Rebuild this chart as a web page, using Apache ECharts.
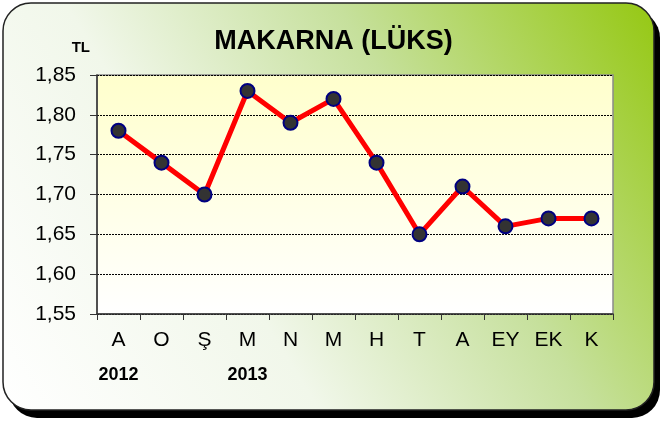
<!DOCTYPE html>
<html>
<head>
<meta charset="utf-8">
<script src="https://cdn.jsdelivr.net/npm/echarts@6/dist/echarts.min.js"></script>
<style>
    html, body { margin: 0; padding: 0; background: #fff; }
    #chart { width: 667px; height: 423px; }
</style>
</head>
<body>
<div id="chart"></div>
<script>
// aylar (kategori) ve yıl etiketleri
var months = ["A", "O", "Ş", "M", "N", "M", "H", "T", "A", "EY", "EK", "K"];
var years = ["2012", "", "", "2013", "", "", "", "", "", "", "", ""];
// fiyatlar TL
var prices = [1.78, 1.74, 1.70, 1.83, 1.79, 1.82, 1.74, 1.65, 1.71, 1.66, 1.67, 1.67];
var yMin = 1.55, yMax = 1.85, yStep = 0.05;

var chartDom = document.getElementById('chart');
var myChart = echarts.init(chartDom);

var option = {
    animation: false,
    graphic: [
        {
            type: 'rect',
            z: -10,
            shape: {x: 9, y: 10, width: 651, height: 408, r: 28},
            style: {fill: '#000'}
        },
        {
            type: 'rect',
            z: -9,
            shape: {x: 3, y: 3, width: 651, height: 407, r: 28},
            style: {
                stroke: '#222',
                lineWidth: 1.5,
                fill: new echarts.graphic.LinearGradient(0, 1, 1, 0, [
                    {offset: 0, color: '#ffffff'},
                    {offset: 0.35, color: '#f1f7ea'},
                    {offset: 0.65, color: '#c6e09c'},
                    {offset: 1, color: '#95c812'}
                ])
            }
        }
    ],
    title: {
        text: 'MAKARNA (LÜKS)',
        left: 'center',
        top: 23,
        textStyle: {
            fontFamily: 'Liberation Sans',
            fontWeight: 'bold',
            fontSize: 27,
            color: '#000'
        }
    },
    grid: {
        left: 97,
        right: 54,
        top: 75,
        bottom: 109,
        show: true,
        borderColor: '#8a8a8a',
        borderWidth: 1.5,
        backgroundColor: new echarts.graphic.LinearGradient(0, 0, 0, 1, [
            {offset: 0, color: '#ffffcc'},
            {offset: 1, color: '#ffffff'}
        ])
    },
    xAxis: {
        type: 'category',
        data: months,
        boundaryGap: true,
        axisLine: {lineStyle: {color: '#333', width: 1.5}},
        axisTick: {show: true, length: 6, lineStyle: {color: '#333'}},
        axisLabel: {
            margin: 8,
            interval: 0,
            formatter: function (value, idx) {
                return '{m|' + value + '}\n{y|' + (years[idx] || ' ') + '}';
            },
            rich: {
                m: {fontFamily: 'Liberation Sans', fontSize: 21, color: '#000', lineHeight: 37},
                y: {fontFamily: 'Liberation Sans', fontSize: 18, fontWeight: 'bold', color: '#000', lineHeight: 32}
            }
        }
    },
    yAxis: {
        type: 'value',
        min: yMin,
        max: yMax,
        interval: yStep,
        name: 'TL',
        nameLocation: 'end',
        nameGap: 20,
        nameTextStyle: {
            fontFamily: 'Liberation Sans',
            fontWeight: 'bold',
            fontSize: 15,
            color: '#000',
            align: 'right',
            padding: [0, 7, 0, 0]
        },
        axisLine: {show: true, lineStyle: {color: '#333', width: 1.5}},
        axisTick: {show: true, length: 7, lineStyle: {color: '#333'}},
        axisLabel: {
            margin: 21,
            fontFamily: 'Liberation Sans',
            fontSize: 21,
            color: '#000',
            formatter: function (v) {
                return v.toFixed(2).replace('.', ',');
            }
        },
        splitLine: {lineStyle: {color: '#000', type: [2, 1], width: 1}}
    },
    series: [{
        type: 'line',
        data: prices,
        symbol: 'circle',
        symbolSize: 14,
        lineStyle: {color: '#ff0000', width: 5},
        itemStyle: {color: '#333333', borderColor: '#000080', borderWidth: 2}
    }]
};

option && myChart.setOption(option);
</script>
</body>
</html>
